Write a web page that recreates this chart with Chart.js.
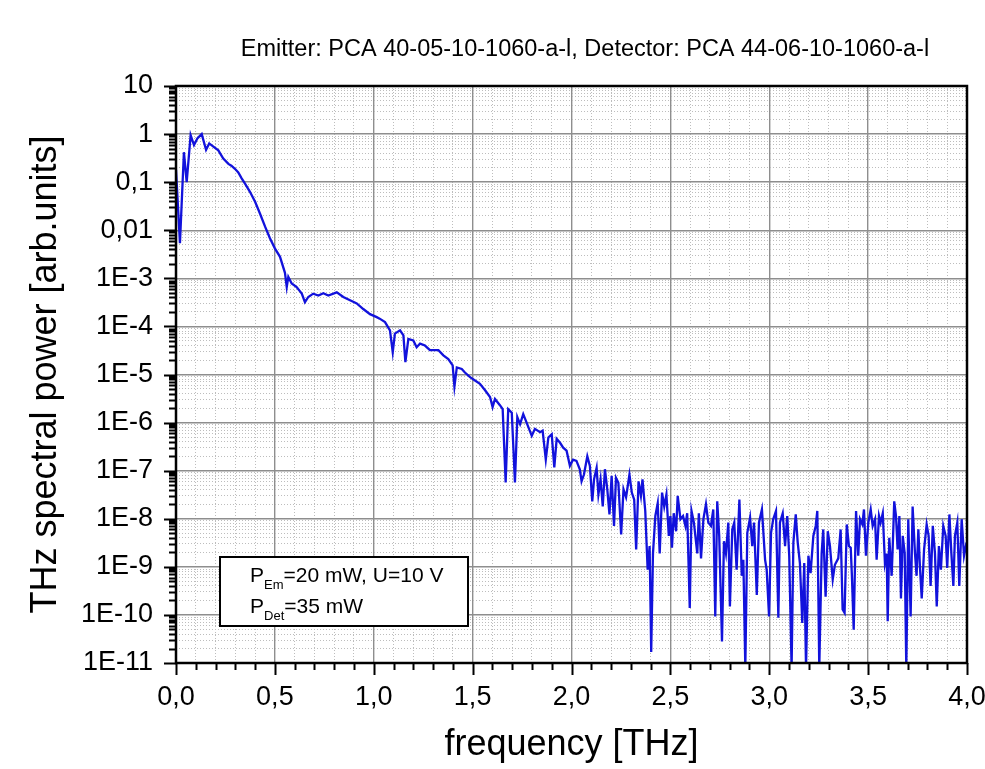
<!DOCTYPE html>
<html lang="en">
<head>
  <meta charset="UTF-8">
  <script src="https://cdn.jsdelivr.net/npm/chart.js"></script>
  <style>
    html, body { margin: 0; padding: 0; background: #fff; }
    #wrap { width: 985px; height: 769px; }
  </style>
</head>
<body>
  <div id="wrap"><canvas id="spectrum" width="985" height="769"></canvas></div>

  <script>
    // THz power spectrum
    const freqTHz = [
      0.0, 0.02, 0.04, 0.054, 0.074, 0.091, 0.108, 0.13, 0.152, 0.168,
      0.189, 0.214, 0.239, 0.265, 0.28, 0.298, 0.315, 0.332, 0.349, 0.374,
      0.4, 0.425, 0.45, 0.475, 0.5, 0.526, 0.551, 0.56, 0.568, 0.585,
      0.61, 0.636, 0.652, 0.669, 0.694, 0.72, 0.745, 0.77, 0.813, 0.846,
      0.88, 0.914, 0.947, 0.981, 1.015, 1.03, 1.057, 1.082, 1.096, 1.107,
      1.133, 1.15, 1.16, 1.175, 1.2, 1.217, 1.234, 1.259, 1.284, 1.327,
      1.352, 1.377, 1.399, 1.408, 1.42, 1.445, 1.461, 1.487, 1.512, 1.537,
      1.563, 1.588, 1.601, 1.613, 1.638, 1.652, 1.667, 1.68, 1.698, 1.714,
      1.726, 1.74, 1.756, 1.773, 1.799, 1.815, 1.841, 1.854, 1.87, 1.883,
      1.9, 1.913, 1.925, 1.942, 1.958, 1.975, 1.992, 2.008, 2.025, 2.042,
      2.051, 2.063, 2.08, 2.093, 2.105, 2.114, 2.127, 2.136, 2.147, 2.158,
      2.169, 2.181, 2.192, 2.203, 2.215, 2.225, 2.237, 2.251, 2.263, 2.276,
      2.293, 2.305, 2.317, 2.327, 2.339, 2.351, 2.359, 2.373, 2.385, 2.395,
      2.403, 2.412, 2.424, 2.436, 2.446, 2.458, 2.469, 2.48, 2.492, 2.5,
      2.508, 2.517, 2.529, 2.537, 2.551, 2.564, 2.576, 2.585, 2.598, 2.607,
      2.619, 2.636, 2.644, 2.655, 2.667, 2.68, 2.692, 2.705, 2.717, 2.727,
      2.737, 2.747, 2.761, 2.771, 2.781, 2.793, 2.801, 2.813, 2.823, 2.835,
      2.849, 2.861, 2.869, 2.879, 2.889, 2.903, 2.914, 2.923, 2.937, 2.948,
      2.963, 2.979, 2.987, 2.999, 3.009, 3.02, 3.034, 3.046, 3.054, 3.068,
      3.08, 3.091, 3.101, 3.113, 3.122, 3.134, 3.144, 3.155, 3.167, 3.177,
      3.186, 3.198, 3.209, 3.223, 3.235, 3.243, 3.253, 3.265, 3.273, 3.285,
      3.296, 3.307, 3.321, 3.332, 3.349, 3.361, 3.371, 3.381, 3.392, 3.403,
      3.412, 3.418, 3.427, 3.439, 3.45, 3.459, 3.471, 3.479, 3.489, 3.501,
      3.513, 3.523, 3.535, 3.543, 3.555, 3.563, 3.574, 3.585, 3.594, 3.599,
      3.607, 3.619, 3.624, 3.632, 3.641, 3.649, 3.658, 3.666, 3.675, 3.685,
      3.693, 3.703, 3.715, 3.725, 3.737, 3.745, 3.754, 3.762, 3.771, 3.783,
      3.796, 3.806, 3.816, 3.827, 3.838, 3.847, 3.858, 3.868, 3.88, 3.892,
      3.9, 3.911, 3.921, 3.931, 3.939, 3.951, 3.961, 3.973, 3.985, 3.998
    ];
    const power = [
      0.18, 0.0054, 0.42, 0.1, 0.95, 0.59, 0.81, 1.0, 0.47, 0.64,
      0.55, 0.46, 0.31, 0.24, 0.22, 0.19, 0.16, 0.12, 0.093, 0.063,
      0.039, 0.022, 0.012, 0.0068, 0.0042, 0.0028, 0.0013, 6.6e-4, 1.07e-3, 7.8e-4,
      6.6e-4, 4.8e-4, 3.2e-4, 4.1e-4, 4.8e-4, 4.4e-4, 4.9e-4, 4.4e-4, 5.1e-4, 4.1e-4,
      3.5e-4, 3.0e-4, 2.3e-4, 1.8e-4, 1.56e-4, 1.45e-4, 1.23e-4, 8.3e-5, 2.9e-5, 7.1e-5,
      8.3e-5, 6.5e-5, 1.8e-5, 5.5e-5, 5.1e-5, 3.7e-5, 4.4e-5, 4.0e-5, 3.2e-5, 3.2e-5,
      2.5e-5, 2.1e-5, 1.55e-5, 5.6e-6, 1.4e-5, 1.3e-5, 1.1e-5, 8.8e-6, 7.5e-6, 6.4e-6,
      4.7e-6, 3.4e-6, 2.1e-6, 3.1e-6, 2.3e-6, 1.9e-6, 5.7e-8, 1.9e-6, 1.6e-6, 5.7e-8,
      1.3e-6, 9.3e-7, 1.5e-6, 1.0e-6, 5.3e-7, 7.4e-7, 6.3e-7, 6.8e-7, 1.7e-7, 4.9e-7,
      5.7e-7, 1.17e-7, 4.6e-7, 3.8e-7, 3.0e-7, 2.6e-7, 1.26e-7, 1.7e-7, 1.6e-7, 1.07e-7,
      6.0e-8, 8.3e-8, 2.0e-7, 1.26e-7, 2.3e-8, 6.6e-8, 1.15e-7, 3.2e-8, 6.6e-8, 1.8e-8,
      1.07e-7, 4.1e-8, 1.23e-8, 7.8e-8, 7.1e-9, 7.1e-8, 5.6e-8, 4.7e-9, 4.1e-8, 2.8e-8,
      8.3e-8, 3.5e-8, 2.5e-8, 2.3e-9, 6.0e-8, 3.0e-8, 6.6e-8, 1.45e-8, 8.7e-10, 2.7e-9,
      1.7e-11, 1.9e-9, 1.14e-8, 2.1e-8, 1.9e-9, 3.5e-8, 1.8e-8, 3.2e-8, 4.4e-9, 1.14e-8,
      2.5e-9, 1.3e-8, 5.5e-9, 3.0e-8, 9.8e-9, 1.14e-8, 7.1e-9, 1.3e-8, 1.4e-10, 1.45e-8,
      8.3e-9, 1.9e-9, 1.3e-8, 1.5e-9, 9.8e-9, 2.0e-8, 8.3e-9, 7.1e-9, 1.56e-8, 9.3e-11,
      2.3e-8, 4.4e-9, 2.8e-11, 3.4e-9, 1.9e-9, 8.3e-9, 1.5e-10, 6.0e-9, 8.3e-9, 8.7e-10,
      2.5e-8, 6.5e-10, 1.4e-9, 8e-12, 5.1e-9, 1.05e-8, 2.7e-9, 8.3e-9, 2.6e-10, 8.3e-9,
      1.56e-8, 1.4e-9, 8.7e-10, 9.3e-11, 5.1e-9, 9.8e-9, 1.45e-8, 8.7e-11, 8.3e-9, 1.3e-8,
      2.7e-9, 1.14e-8, 1.7e-9, 8e-12, 3.2e-9, 1.23e-8, 3.2e-9, 1.2e-9, 6.8e-11, 1.2e-9,
      8e-12, 1.7e-9, 7.4e-10, 4.4e-9, 7.1e-9, 1.45e-8, 8e-12, 1.9e-9, 6.0e-9, 2.4e-10,
      5.5e-9, 2.7e-9, 5.5e-10, 1.1e-9, 1.5e-9, 6.0e-9, 1.3e-10, 1.1e-10, 7.6e-9, 2.7e-9,
      2.5e-9, 6.5e-10, 4.9e-11, 1.45e-8, 1.7e-9, 9.8e-9, 7.6e-9, 1.56e-8, 1.7e-9, 8.3e-9,
      1.56e-8, 7.1e-9, 9.8e-9, 1.4e-9, 1.14e-8, 8.3e-9, 1.3e-8, 1.2e-9, 1.9e-9, 7.4e-11,
      4.0e-9, 6.5e-10, 2.3e-9, 2.3e-8, 1.14e-8, 2.3e-9, 1.14e-8, 2.2e-10, 4.4e-9, 1.9e-9,
      8e-12, 9.8e-9, 9.3e-11, 1.8e-8, 1.9e-9, 6.5e-10, 6.0e-9, 1.0e-9, 2.2e-10, 2.3e-9,
      7.6e-9, 4.4e-9, 4.0e-10, 7.1e-9, 1.9e-9, 1.5e-10, 2.7e-9, 8.7e-10, 7.1e-9, 4.4e-9,
      9.5e-10, 1.23e-8, 1.9e-9, 4.0e-10, 4.4e-9, 8.3e-9, 4.0e-10, 9.8e-9, 1.7e-9, 3.2e-9
    ];

    // axes
    const yDecades = [1e-11, 1e-10, 1e-9, 1e-8, 1e-7, 1e-6, 1e-5, 1e-4, 1e-3, 0.01, 0.1, 1, 10];
    const yDecadeLabels = ['1E-11', '1E-10', '1E-9', '1E-8', '1E-7', '1E-6', '1E-5', '1E-4', '1E-3', '0,01', '0,1', '1', '10'];
    const xMajor = [0, 0.5, 1, 1.5, 2, 2.5, 3, 3.5, 4];
    const xMajorLabels = ['0,0', '0,5', '1,0', '1,5', '2,0', '2,5', '3,0', '3,5', '4,0'];
    const xMinorStep = 0.1;

    const titleText = 'Emitter: PCA 40-05-10-1060-a-l, Detector: PCA 44-06-10-1060-a-l';
    const infoLines = [
      ['P', 'Em', '=20 mW, U=10 V'],
      ['P', 'Det', '=35 mW']
    ];

    const FONT = '"Liberation Sans", Arial, Helvetica, sans-serif';

    // y: decades as major ticks, 2..9 between as minor
    const yTicks = [];
    yDecades.forEach((d, i) => {
      yTicks.push({ value: d, major: true });
      if (i < yDecades.length - 1) {
        for (let k = 2; k <= 9; k++) yTicks.push({ value: k * d, major: false });
      }
    });
    // x: every 0.1 THz, labels only on the 0.5 steps
    const xTicks = [];
    for (let i = 0; i <= 40; i++) {
      const v = Math.round(i * xMinorStep * 10) / 10;
      xTicks.push({ value: v, major: xMajor.includes(v) });
    }

    const gridColor = ctx => (ctx.tick && ctx.tick.major ? '#8e8e8e' : '#bdbdbd');
    const gridWidth = ctx => (ctx.tick && ctx.tick.major ? 1.4 : 1);
    const gridDash = ctx => (ctx.tick && !ctx.tick.major ? [1, 2] : []);

    const decorPlugin = {
      id: 'decor',
      afterDraw(chart) {
        const { ctx, chartArea: a, scales } = chart;
        ctx.save();

        // outward tick marks
        ctx.strokeStyle = '#000';
        ctx.lineWidth = 2;
        ctx.beginPath();
        scales.y.ticks.forEach(t => {
          const y = Math.round(scales.y.getPixelForValue(t.value)) + 0.5;
          const len = t.major ? 12 : 7;
          ctx.moveTo(a.left - len, y);
          ctx.lineTo(a.left, y);
        });
        scales.x.ticks.forEach(t => {
          const x = Math.round(scales.x.getPixelForValue(t.value)) + 0.5;
          const len = t.major ? 12 : 7;
          ctx.moveTo(x, a.bottom);
          ctx.lineTo(x, a.bottom + len);
        });
        ctx.stroke();

        // frame
        ctx.lineWidth = 2.5;
        ctx.strokeRect(a.left, a.top, a.right - a.left, a.bottom - a.top);

        // header
        ctx.fillStyle = '#000';
        ctx.font = '23.5px ' + FONT;
        ctx.textAlign = 'center';
        ctx.textBaseline = 'alphabetic';
        ctx.fillText(titleText, 585, 56);

        // info box
        const bx = a.left + 44, by = a.top + 471, bw = 248, bh = 69;
        ctx.fillStyle = '#fff';
        ctx.fillRect(bx, by, bw, bh);
        ctx.lineWidth = 2;
        ctx.strokeStyle = '#000';
        ctx.strokeRect(bx, by, bw, bh);
        ctx.fillStyle = '#000';
        ctx.textAlign = 'left';
        infoLines.forEach((ln, i) => {
          const base = by + 25 + i * 31;
          let x = bx + 30;
          ctx.font = '21px ' + FONT;
          ctx.fillText(ln[0], x, base);
          x += ctx.measureText(ln[0]).width;
          ctx.font = '13px ' + FONT;
          ctx.fillText(ln[1], x, base + 7);
          x += ctx.measureText(ln[1]).width;
          ctx.font = '21px ' + FONT;
          ctx.fillText(ln[2], x, base);
        });

        ctx.restore();
      }
    };

    new Chart(document.getElementById('spectrum'), {
      type: 'line',
      data: {
        datasets: [{
          data: freqTHz.map((f, i) => ({ x: f, y: power[i] })),
          borderColor: '#1212dc',
          borderWidth: 2.3,
          pointRadius: 0,
          tension: 0,
          fill: false
        }]
      },
      options: {
        responsive: false,
        animation: false,
        layout: { padding: { top: 86, right: 18, left: 0, bottom: 0 } },
        plugins: {
          legend: { display: false },
          tooltip: { enabled: false }
        },
        scales: {
          x: {
            type: 'linear',
            min: 0,
            max: 4,
            afterBuildTicks: s => { s.ticks = xTicks.map(t => ({ ...t })); },
            afterFit: s => { s.height = 106; s.paddingLeft = 0; s.paddingRight = 0; },
            ticks: {
              autoSkip: false,
              maxRotation: 0,
              padding: 18,
              color: '#000',
              font: { family: FONT, size: 27 },
              callback: v => {
                const i = xMajor.indexOf(v);
                return i >= 0 ? xMajorLabels[i] : '';
              }
            },
            grid: { drawTicks: false, color: gridColor, lineWidth: gridWidth },
            border: { display: false, dash: gridDash },
            title: {
              display: true,
              text: 'frequency [THz]',
              color: '#000',
              font: { family: FONT, size: 36 },
              padding: { top: 0, bottom: 2 }
            }
          },
          y: {
            type: 'logarithmic',
            min: 1e-11,
            max: 10,
            afterBuildTicks: s => { s.ticks = yTicks.map(t => ({ ...t })); },
            afterFit: s => { s.width = 176; s.paddingTop = 0; s.paddingBottom = 0; },
            ticks: {
              autoSkip: false,
              padding: 23,
              color: '#000',
              font: { family: FONT, size: 27 },
              callback: v => {
                const i = yDecades.indexOf(v);
                return i >= 0 ? yDecadeLabels[i] : '';
              }
            },
            grid: { drawTicks: false, color: gridColor, lineWidth: gridWidth },
            border: { display: false, dash: gridDash },
            title: {
              display: true,
              text: 'THz spectral power [arb.units]',
              color: '#000',
              font: { family: FONT, size: 36 },
              padding: { top: 24, bottom: 0 }
            }
          }
        }
      },
      plugins: [decorPlugin]
    });
  </script>
</body>
</html>
